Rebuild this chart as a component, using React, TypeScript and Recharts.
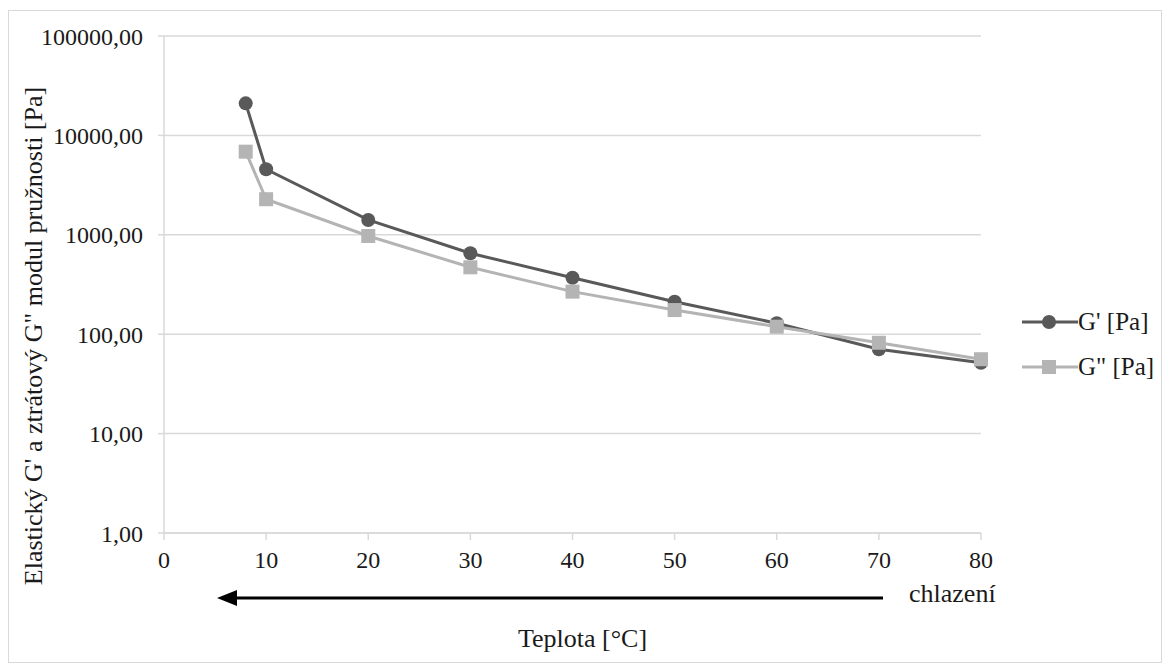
import { LineChart, Line, CartesianGrid, XAxis, YAxis, Legend } from 'recharts';

const temps = [8, 10, 20, 30, 40, 50, 60, 70, 80];
const gPrime = [21000, 4560, 1410, 652, 370, 212, 129, 70.5, 51.7];
const gDouble = [6860, 2280, 973, 471, 268, 175, 119, 82, 56];
const xTicks = [0, 10, 20, 30, 40, 50, 60, 70, 80];
const yTicks = [1, 10, 100, 1000, 10000, 100000];

const data = temps.map((t, i) => ({ t, gp: gPrime[i], gpp: gDouble[i] }));

const FONT = "'Liberation Serif', 'Times New Roman', serif";
const TEXT = '#1a1a1a';
const GRID = '#d9d9d9';
const DARK = '#595959';
const LIGHT = '#b4b4b4';

const fmt = (v: number) => v.toFixed(2).replace('.', ',');

function CircleDot(props: any) {
  const { cx, cy, index } = props;
  if (cx == null || cy == null) return null;
  return <circle key={`c${index}`} cx={cx} cy={cy} r={7} fill={DARK} />;
}

function SquareDot(props: any) {
  const { cx, cy, index } = props;
  if (cx == null || cy == null) return null;
  return <rect key={`s${index}`} x={cx - 7} y={cy - 7} width={14} height={14} fill={LIGHT} />;
}

function LegendBox() {
  const rows = [
    { name: "G' [Pa]", color: DARK, shape: 'circle' },
    { name: 'G" [Pa]', color: LIGHT, shape: 'square' },
  ];
  return (
    <div style={{ fontFamily: FONT, fontSize: 25, color: TEXT }}>
      {rows.map((r) => (
        <div key={r.name} style={{ display: 'flex', alignItems: 'center', height: 45 }}>
          <svg width={56} height={20}>
            <line x1={0} y1={10} x2={56} y2={10} stroke={r.color} strokeWidth={3} />
            {r.shape === 'circle' ? (
              <circle cx={27} cy={10} r={7} fill={r.color} />
            ) : (
              <rect x={20} y={3} width={14} height={14} fill={r.color} />
            )}
          </svg>
          <span style={{ fontFamily: FONT, fontSize: 25, lineHeight: '45px' }}>{r.name}</span>
        </div>
      ))}
    </div>
  );
}

export default function App() {
  return (
    <div
      style={{
        position: 'relative',
        width: 1152,
        height: 651,
        marginTop: 2,
        border: `1px solid ${GRID}`,
        background: '#fff',
        fontFamily: FONT,
      }}
    >
      <LineChart width={1152} height={651} data={data} margin={{ top: 25, right: 41, bottom: 69, left: 0 }}>
        <CartesianGrid vertical={false} stroke={GRID} strokeWidth={1.5} />
        <XAxis
          dataKey="t"
          type="number"
          domain={[0, 80]}
          ticks={xTicks}
          height={60}
          tickSize={7}
          tickMargin={11}
          axisLine={{ stroke: GRID, strokeWidth: 1.5 }}
          tickLine={{ stroke: GRID, strokeWidth: 1.5 }}
          tick={{ fill: TEXT, fontSize: 24, fontFamily: FONT }}
          label={{
            content: ({ viewBox }: any) => (
              <text
                x={viewBox.x + viewBox.width / 2 + 10}
                y={viewBox.y + 114}
                textAnchor="middle"
                fill={TEXT}
                fontSize={26}
                fontFamily={FONT}
              >
                Teplota [°C]
              </text>
            ),
          }}
        />
        <YAxis
          scale="log"
          domain={[1, 100000]}
          allowDataOverflow
          ticks={yTicks}
          width={155}
          tickSize={6}
          tickMargin={15}
          tickFormatter={fmt}
          axisLine={{ stroke: GRID, strokeWidth: 1.5 }}
          tickLine={{ stroke: GRID, strokeWidth: 1.5 }}
          tick={{ fill: TEXT, fontSize: 24, fontFamily: FONT }}
          label={{
            content: () => (
              <text
                x={24}
                y={325}
                transform="rotate(-90 24 325)"
                textAnchor="middle"
                dominantBaseline="central"
                fill={TEXT}
                fontSize={26}
                fontFamily={FONT}
              >
                Elastický G' a ztrátový G" modul pružnosti [Pa]
              </text>
            ),
          }}
        />
        <Legend
          layout="vertical"
          align="right"
          verticalAlign="middle"
          content={() => <LegendBox />}
          wrapperStyle={{ top: 288, right: 0, width: 139 }}
        />
        <Line
          dataKey="gp"
          name="G' [Pa]"
          stroke={DARK}
          strokeWidth={3}
          dot={CircleDot}
          activeDot={false}
          isAnimationActive={false}
        />
        <Line
          dataKey="gpp"
          name='G" [Pa]'
          stroke={LIGHT}
          strokeWidth={3}
          dot={SquareDot}
          activeDot={false}
          isAnimationActive={false}
        />
      </LineChart>
      <svg
        width={1152}
        height={651}
        style={{ position: 'absolute', left: 0, top: 0, pointerEvents: 'none' }}
      >
        <line x1={874} y1={587} x2={226} y2={587} stroke="#000" strokeWidth={3} />
        <polygon points="208,587 228,579 228,595" fill="#000" />
        <text x={900} y={591} fill={TEXT} fontSize={26} fontFamily={FONT}>
          chlazení
        </text>
      </svg>
    </div>
  );
}
